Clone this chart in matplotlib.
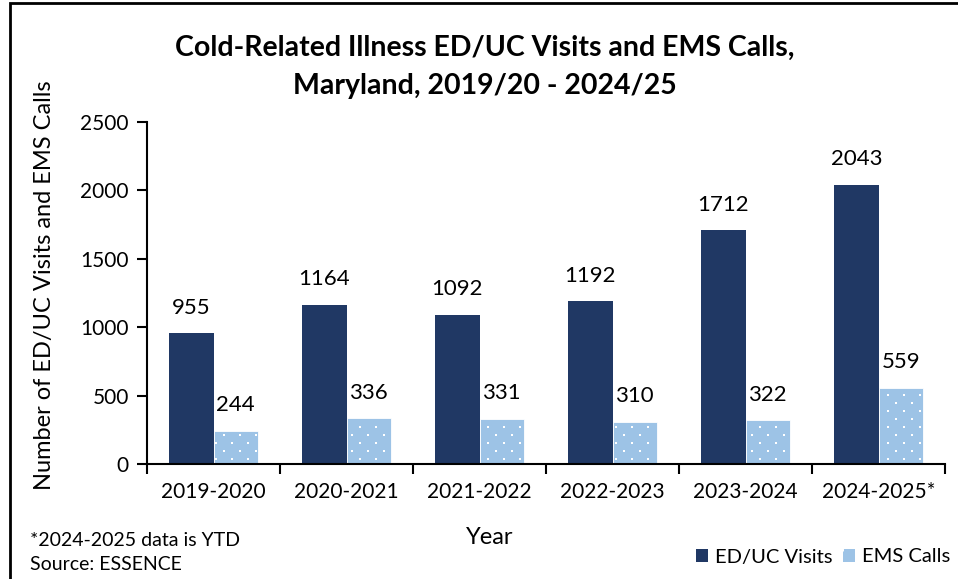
import matplotlib.pyplot as plt
import matplotlib.patches as mpatches
import numpy as np

years = ["2019-2020", "2020-2021", "2021-2022", "2022-2023", "2023-2024", "2024-2025*"]
ed_uc_visits = [955, 1164, 1092, 1192, 1712, 2043]
ems_calls = [244, 336, 331, 310, 322, 559]

navy = "#203864"
light_blue = "#9DC3E6"

plt.rcParams['font.family'] = ['Lato', 'DejaVu Sans']

fig = plt.figure(figsize=(9.58, 5.79), dpi=100)
ax = fig.add_axes([147 / 958, 1 - 464 / 579, 798 / 958, 342 / 579])

x = np.arange(len(years))
w = 0.333
b1 = ax.bar(x - w / 2, ed_uc_visits, w, color=navy, label="ED/UC Visits")
b2 = ax.bar(x + w / 2, ems_calls, w, color=light_blue, edgecolor="white",
            linewidth=0.6, label="EMS Calls")

for rect, v in zip(b1, ed_uc_visits):
    ax.annotate(str(v), (rect.get_x() + rect.get_width() / 2, v),
                xytext=(0, 11), textcoords="offset points",
                ha="center", va="bottom", fontsize=16)
for rect, v in zip(b2, ems_calls):
    ax.annotate(str(v), (rect.get_x() + rect.get_width() / 2, v),
                xytext=(0, 11), textcoords="offset points",
                ha="center", va="bottom", fontsize=16)

ax.set_xlim(-0.5, len(years) - 0.5)
ax.set_ylim(0, 2500)
ax.set_yticks(range(0, 2501, 500))
ax.set_xticks(x)
ax.set_xticklabels(years)
ax.set_xticks(np.arange(-0.5, len(years)), minor=True)
ax.tick_params(axis="x", which="major", length=0, labelsize=15, pad=13)
ax.tick_params(axis="x", which="minor", length=7, width=1.5, direction="out")
ax.tick_params(axis="y", length=7, width=1.5, labelsize=15, pad=6)
for s in ["top", "right"]:
    ax.spines[s].set_visible(False)
for s in ["left", "bottom"]:
    ax.spines[s].set_linewidth(1.5)

# white dot texture on the EMS bars (staggered grid, 8 px step)
inv = ax.transData.inverted()
for rect in b2:
    (x0, y0), (x1, y1) = ax.transData.transform([(rect.get_x(), 0),
                                                 (rect.get_x() + rect.get_width(), rect.get_height())])
    pts = []
    for py in np.arange(np.ceil((y0 + 3) / 8) * 8, y1 - 2, 8):
        for px in np.arange(np.ceil((x0 + 2) / 8) * 8, x1 - 1, 8):
            if int(px / 8 + py / 8) % 2 == 0:
                pts.append((px, py))
    if pts:
        d = inv.transform(pts)
        ax.scatter(d[:, 0], d[:, 1], s=4, marker="s", color="white", linewidths=0, zorder=3)

fig.text(0.506, 0.917, "Cold-Related Illness ED/UC Visits and EMS Calls,",
         ha="center", va="center", fontsize=20.5, fontweight="bold")
fig.text(0.506, 0.852, "Maryland, 2019/20 - 2024/25",
         ha="center", va="center", fontsize=20.5, fontweight="bold")
fig.text(45 / 958, 1 - 285 / 579, "Number of ED/UC Visits and EMS Calls",
         rotation=90, ha="center", va="center", fontsize=17)
fig.text(490 / 958, 1 - 538 / 579, "Year", ha="center", va="center", fontsize=17)
fig.text(30 / 958, 1 - 540 / 579, "*2024-2025 data is YTD", ha="left", va="center", fontsize=14)
fig.text(30 / 958, 1 - 565 / 579, "Source: ESSENCE", ha="left", va="center", fontsize=14)

ems_handle = mpatches.Patch(facecolor=light_blue, edgecolor="white", hatch=".", linewidth=0)
fig.legend(handles=[b1, ems_handle], labels=["ED/UC Visits", "EMS Calls"], loc="center left",
           bbox_to_anchor=(696 / 958, 1 - 557 / 579),
           ncol=2, frameon=False, fontsize=14.5, handlelength=0.6, handleheight=0.6,
           handletextpad=0.35, columnspacing=0.5, borderaxespad=0, borderpad=0)

fig.patches.append(mpatches.Rectangle((10 / 958, -0.1), 1.1, 1.1 - 3 / 579, transform=fig.transFigure,
                                      fill=False, edgecolor="black", linewidth=2, clip_on=False))

fig.savefig("out.png", dpi=100)
